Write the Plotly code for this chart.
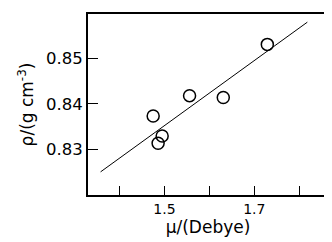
import plotly.graph_objects as go

mu = [1.475, 1.486, 1.495, 1.556, 1.631, 1.729]
rho = [0.8373, 0.8313, 0.8329, 0.8418, 0.8414, 0.8531]
fit_mu = [1.358, 1.818]
fit_rho = [0.8250, 0.8580]
x_ticks = [1.4, 1.5, 1.6, 1.7, 1.8]
x_labels = ["", "1.5", "", "1.7", ""]
y_ticks = [0.83, 0.84, 0.85]
y_labels = ["0.83", "0.84", "0.85"]

fig = go.Figure()
fig.add_trace(go.Scatter(x=fit_mu, y=fit_rho, mode="lines",
                         line=dict(color="black", width=1), showlegend=False))
fig.add_trace(go.Scatter(x=mu, y=rho, mode="markers",
                         marker=dict(symbol="circle-open", size=12, color="black",
                                     line=dict(width=1.5, color="black")),
                         showlegend=False))

font = "DejaVu Sans, sans-serif"
fig.update_layout(
    width=324, height=234,
    margin=dict(l=80, r=2, t=6, b=47),
    plot_bgcolor="white", paper_bgcolor="white",
    font=dict(family=font, color="black"),
    xaxis=dict(range=[1.330, 1.864], tickvals=x_ticks, ticktext=x_labels,
               ticks="inside", ticklen=9, tickwidth=1.3, tickcolor="black",
               showline=True, linecolor="black", linewidth=2, mirror=True,
               showgrid=False, zeroline=False, tickfont=dict(size=14),
               title=dict(text="μ/(Debye)", font=dict(size=17), standoff=1)),
    yaxis=dict(range=[0.8199, 0.8598], tickvals=y_ticks, ticktext=y_labels,
               ticks="inside", ticklen=10, tickwidth=1.3, tickcolor="black",
               showline=True, linecolor="black", linewidth=2, mirror=True,
               showgrid=False, zeroline=False, tickfont=dict(size=16.5),
               title=dict(text="ρ/(g cm<sup>-3</sup>)", font=dict(size=17), standoff=8)),
)
fig.write_html("out.html")
